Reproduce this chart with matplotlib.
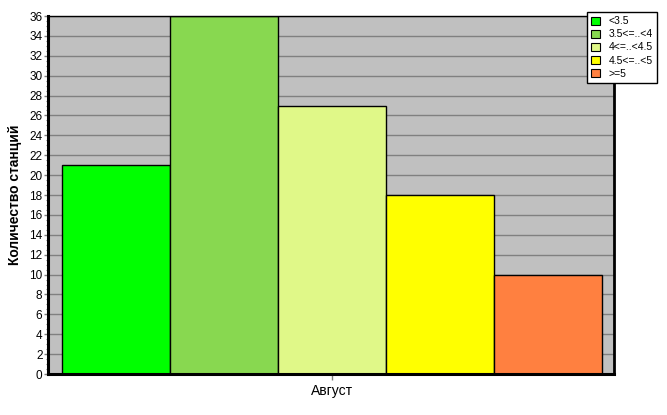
import numpy as np
import matplotlib
matplotlib.use('Agg')
from matplotlib import pyplot as plt
from matplotlib.patches import Patch

plt.rcParams['font.family'] = ['Liberation Sans', 'DejaVu Sans']

# data
category = 'Август'
series = ['<3.5', '3.5<=..<4', '4<=..<4.5', '4.5<=..<5', '>=5']
values = [21, 36, 27, 18, 10]
colors = ['#00FF00', '#88D850', '#E0F888', '#FFFF00', '#FF8040']

fig = plt.figure(figsize=(6.67, 4.15), dpi=100)
ax = fig.add_axes([48 / 667, 41 / 415, 566 / 667, 358 / 415])
ax.set_facecolor('#C0C0C0')

# bars, one group, width 1 each
offsets = np.arange(len(values)) - (len(values) - 1) / 2
for off, v, c in zip(offsets, values, colors):
    ax.bar(off, v, width=1.0, color=c, edgecolor='black', linewidth=1, zorder=3)

ax.set_xlim(-2.5 - 14 / 108, 2.5 + 12 / 108)
ax.set_ylim(0, 36)
ax.set_yticks(np.arange(0, 37, 2))
ax.set_yticks(np.arange(0, 36.1, 0.5), minor=True)
ax.set_xticks([0])
ax.set_xticklabels([category], fontsize=10)
ax.tick_params(axis='y', labelsize=8.5, length=3, width=1, color='#808080', pad=1)
ax.tick_params(axis='y', which='minor', length=1.5, width=0.8, color='#808080')
ax.tick_params(axis='x', length=4, width=1, color='#808080', pad=3)
ax.grid(axis='y', color='#808080', linewidth=1, zorder=0)
ax.set_axisbelow(True)

for side in ['left', 'bottom']:
    ax.spines[side].set_linewidth(2.2)
ax.spines['right'].set_linewidth(2)
ax.spines['top'].set_linewidth(1)
for s in ax.spines.values():
    s.set_color('black')
    s.set_zorder(4)

ax.set_ylabel('Количество станций', fontsize=10, fontweight='bold', labelpad=5)

handles = [Patch(facecolor=c, edgecolor='black', linewidth=0.8) for c in colors]
leg = fig.legend(handles, series, loc='upper left', bbox_to_anchor=(587 / 667, 1 - 12 / 415),
                 fontsize=7.5, frameon=True, fancybox=False, handlelength=0.8, handleheight=0.8,
                 handletextpad=0.9, borderpad=0.4, labelspacing=0.3, borderaxespad=0)
leg.get_frame().set_edgecolor('black')
leg.get_frame().set_linewidth(1)
leg.get_frame().set_facecolor('white')
leg.get_frame().set_alpha(1)

fig.savefig('out.png', dpi=100)
